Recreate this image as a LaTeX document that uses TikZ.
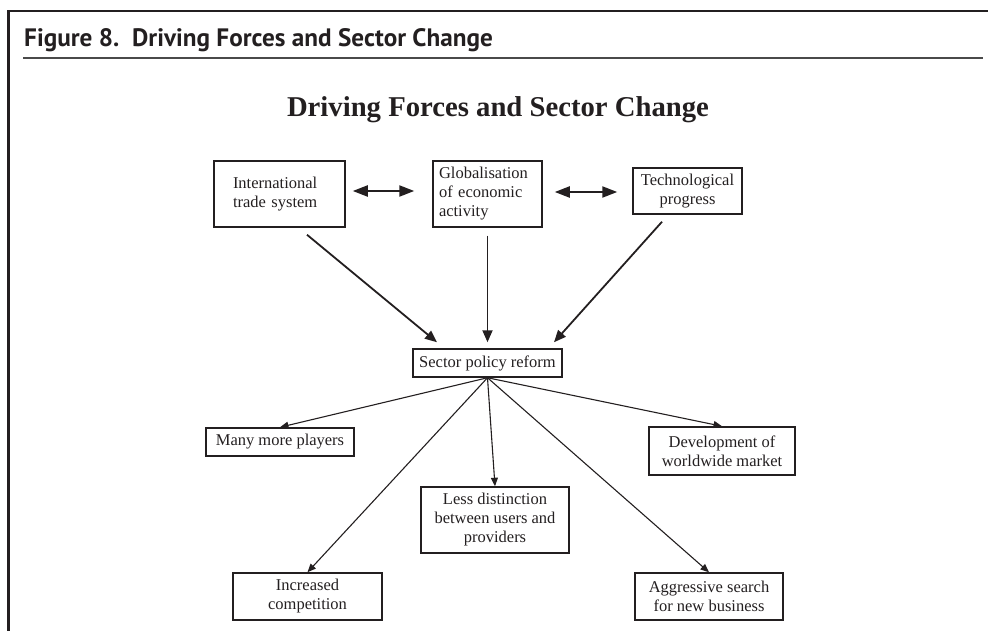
\documentclass[tikz,border=0pt]{standalone}
\usepackage{fontspec}
\setmainfont{Liberation Serif}
\newfontfamily\headfont[FakeStretch=1.0]{PT Sans}
\usepackage{xcolor}
\usepackage{tikz}
\usetikzlibrary{arrows.meta,calc}
\definecolor{ink}{HTML}{231F20}
\definecolor{rulegrey}{HTML}{4A4A4A}
\tikzset{
  >={Triangle[length=12pt,width=10pt]},
  flow/.style={->,line width=1.8pt,draw=ink},
  thinflow/.style={-{Triangle[length=8.5pt,width=7pt]},line width=1.1pt,draw=ink},
  twoway/.style={{Triangle[length=15pt,width=11pt]}-{Triangle[length=15pt,width=11pt]},line width=2.2pt,draw=ink},
  box/.style={draw=ink,line width=1.5pt,inner sep=0pt,align=center,text=ink,
    font=\fontsize{16.5}{19}\selectfont},
  leftbox/.style={box,align=left}
}

\begin{document}
\begin{tikzpicture}[x=1pt,y=-1pt]
  \useasboundingbox (0,0) rectangle (988,631);
  \draw[ink,line width=2.6pt] (8.5,631) -- (8.5,11) -- (988,11);
  \draw[rulegrey,line width=1.3pt] (23,58) -- (983,58);
  \node[anchor=base west,inner sep=0pt,text=ink,font=\headfont\bfseries\fontsize{25.2}{29}\selectfont] (figcap) at (24,47) {Figure 8.\ \ Driving Forces and Sector Change};
  \node[anchor=base,inner sep=0pt,text=ink,font=\bfseries\fontsize{28.7}{34}\selectfont] (title) at (498,117) {Driving Forces and Sector Change};

  \node[leftbox,minimum width=131pt,minimum height=66pt,text width=93pt] (intl) at (279.5,194) {International\\trade system};
  \node[leftbox,minimum width=109pt,minimum height=66pt,text width=97pt] (glob) at (487.5,194) {Globalisation\\of economic\\activity};
  \node[box,minimum width=109pt,minimum height=46pt] (tech) at (687.5,191) {Technological\\progress};
  \node[box,minimum width=149pt,minimum height=28pt] (sector) at (487.5,363) {Sector policy reform};

  \node[box,minimum width=148pt,minimum height=28pt] (many) at (280,442) {Many more players};
  \node[box,minimum width=146pt,minimum height=48pt] (world) at (722,451) {Development of\\worldwide market};
  \node[box,minimum width=148pt,minimum height=66pt] (less) at (495,520) {Less distinction\\between users and\\providers};
  \node[box,minimum width=149pt,minimum height=47pt] (compete) at (307.5,596.5) {Increased\\competition};
  \node[box,minimum width=148pt,minimum height=47pt] (search) at (709,596.5) {Aggressive search\\for new business};

  \draw[twoway,shorten <=7pt,shorten >=18pt] ([yshift=3pt]intl.east) -- ([yshift=3pt]glob.west);
  \draw[twoway,shorten <=12pt,shorten >=15pt] ([yshift=2pt]glob.east) -- ([yshift=-1pt]tech.west);
  \draw[flow] ([xshift=27.5pt,yshift=-7pt]intl.south) -- ([xshift=-50.5pt,yshift=6pt]sector.north);
  \draw[flow,shorten <=8pt,shorten >=6pt] (glob) -- (sector);
  \draw[flow] ([xshift=-25.5pt,yshift=-7pt]tech.south) -- ([xshift=66.5pt,yshift=6pt]sector.north);
  \foreach \target in {many,world,less,compete,search}
    \draw[thinflow] (sector.south) -- (\target.north);
\end{tikzpicture}
\end{document}
